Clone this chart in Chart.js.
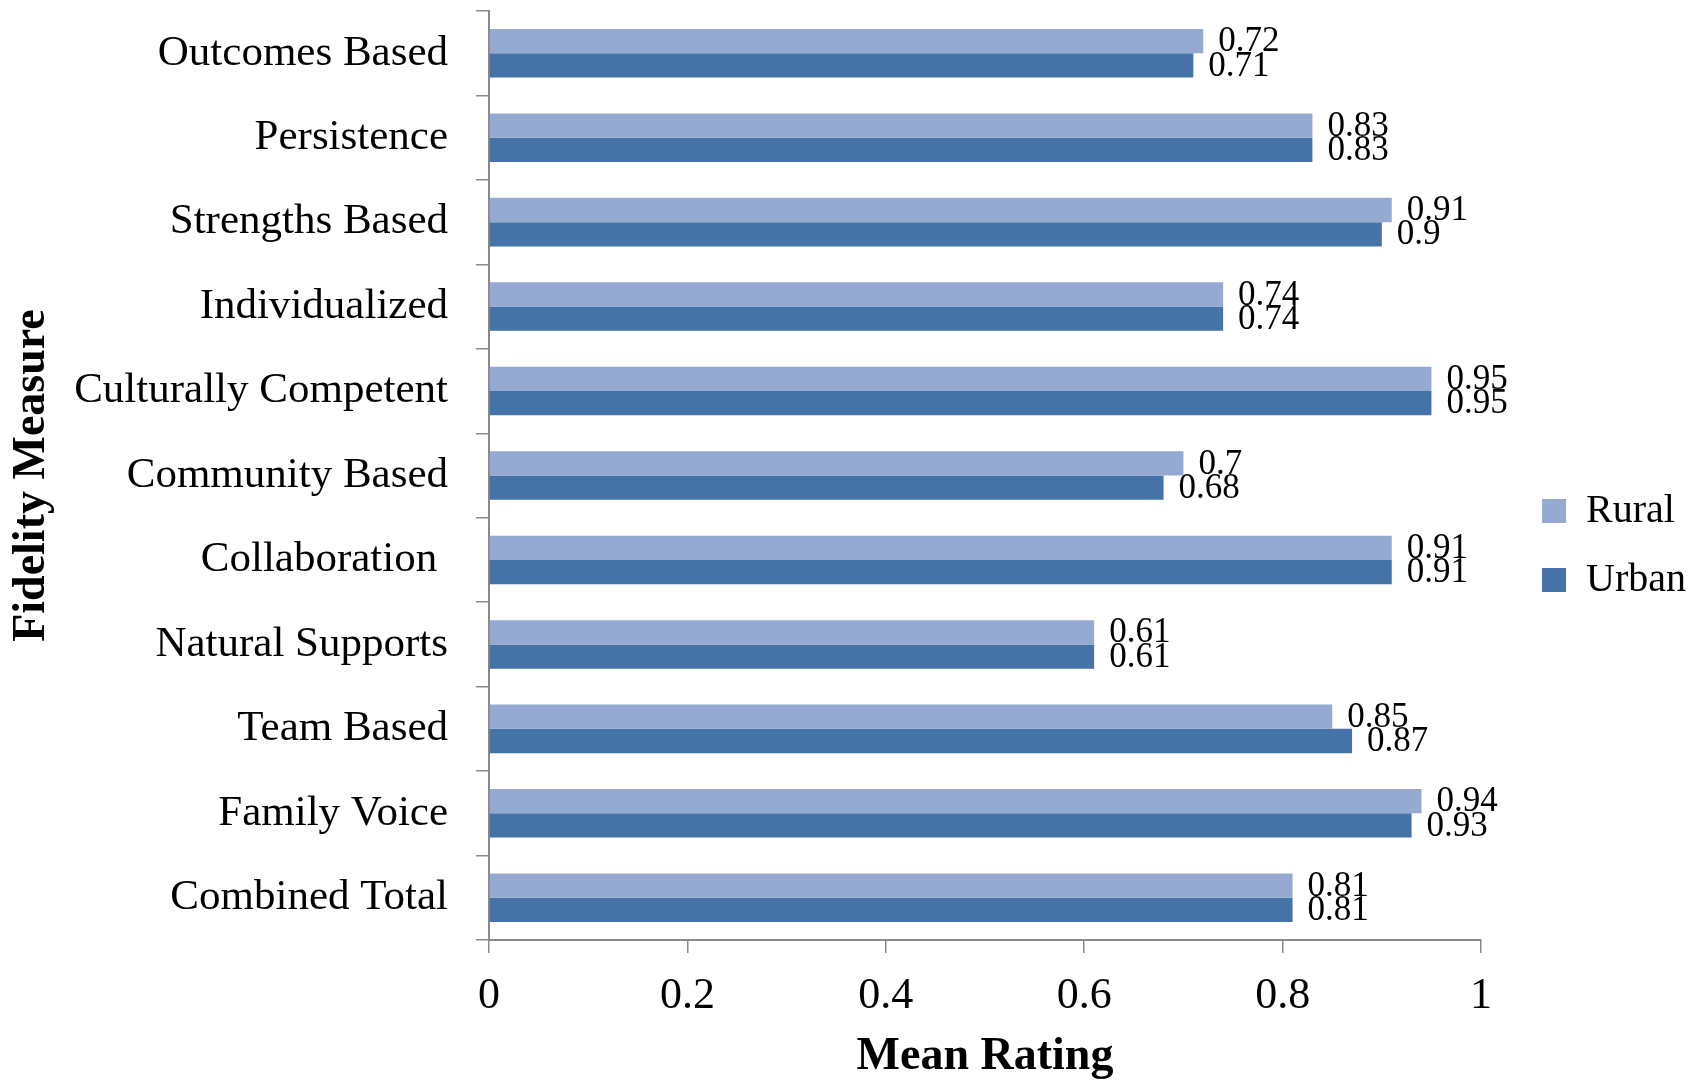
<!DOCTYPE html>
<html>
<head>
<meta charset="utf-8">
<script src="https://cdn.jsdelivr.net/npm/chart.js@4/dist/chart.umd.min.js"></script>
<style>
  html, body { margin: 0; padding: 0; background: #fff; }
  #wrap { width: 1704px; height: 1080px; }
</style>
</head>
<body>
<div id="wrap"><canvas id="c" width="1704" height="1080"></canvas></div>
<script>
// Fidelity measures (top to bottom)
const categories = [
  "Outcomes Based",
  "Persistence",
  "Strengths Based",
  "Individualized",
  "Culturally Competent",
  "Community Based",
  "Collaboration ",
  "Natural Supports",
  "Team Based",
  "Family Voice",
  "Combined Total"
];

// Mean rating per measure
const rural = [0.72, 0.83, 0.91, 0.74, 0.95, 0.7, 0.91, 0.61, 0.85, 0.94, 0.81];
const urban = [0.71, 0.83, 0.9, 0.74, 0.95, 0.68, 0.91, 0.61, 0.87, 0.93, 0.81];

const seriesNames = ["Rural", "Urban"];
const xTicks = [0, 0.2, 0.4, 0.6, 0.8, 1];

const FONT = "'Liberation Serif', 'Times New Roman', serif";
const AXIS_GRAY = "#898989";

// Writes each bar's value just past its end
const valueLabels = {
  id: "valueLabels",
  afterDatasetsDraw(chart) {
    const ctx = chart.ctx;
    ctx.save();
    ctx.font = "35px " + FONT;
    ctx.fillStyle = "#000";
    ctx.textAlign = "left";
    ctx.textBaseline = "middle";
    chart.data.datasets.forEach((ds, di) => {
      const meta = chart.getDatasetMeta(di);
      meta.data.forEach((bar, i) => {
        ctx.fillText(String(ds.data[i]), bar.x + 15, bar.y + 1);
      });
    });
    ctx.restore();
  }
};

new Chart(document.getElementById("c"), {
  type: "bar",
  data: {
    labels: categories,
    datasets: [
      { label: seriesNames[0], data: rural, backgroundColor: "#95a9d1", borderWidth: 0 },
      { label: seriesNames[1], data: urban, backgroundColor: "#4572a7", borderWidth: 0 }
    ]
  },
  options: {
    indexAxis: "y",
    responsive: false,
    animation: false,
    devicePixelRatio: 1,
    categoryPercentage: 0.575,
    barPercentage: 1.0,
    layout: { padding: { left: 3, top: 11, right: 8, bottom: 0 } },
    plugins: {
      legend: {
        position: "right",
        align: "center",
        labels: {
          font: { family: FONT, size: 40 },
          color: "#000",
          boxWidth: 24,
          boxHeight: 24,
          padding: 29
        }
      },
      tooltip: { enabled: false }
    },
    scales: {
      x: {
        type: "linear",
        min: 0,
        max: 1,
        afterBuildTicks(scale) {
          scale.ticks = xTicks.map(v => ({ value: v }));
        },
        ticks: {
          font: { family: FONT, size: 44 },
          color: "#000",
          padding: 17,
          callback: v => String(v)
        },
        grid: {
          drawOnChartArea: false,
          drawTicks: true,
          tickLength: 13,
          color: AXIS_GRAY,
          lineWidth: 1.5
        },
        border: { display: true, color: AXIS_GRAY, width: 2 },
        title: {
          display: true,
          text: "Mean Rating",
          font: { family: FONT, size: 46, weight: "bold" },
          color: "#000",
          padding: { top: 0, bottom: -5 }
        },
        afterFit(scale) { scale.height = 140; }
      },
      y: {
        type: "category",
        offset: true,
        grid: {
          offset: true,
          drawOnChartArea: false,
          drawTicks: true,
          tickLength: 13,
          color: AXIS_GRAY,
          lineWidth: 1.5
        },
        border: { display: true, color: AXIS_GRAY, width: 2 },
        ticks: {
          font: { family: FONT, size: 43 },
          color: "#000",
          padding: 28
        },
        title: {
          display: true,
          text: "Fidelity Measure",
          font: { family: FONT, size: 46, weight: "bold" },
          color: "#000",
          padding: { top: 2, bottom: 0 }
        },
        afterFit(scale) {
          scale.width = 486;
          // labels sit half a band inside the ends, so no extra room is needed
          scale.paddingTop = 0;
          scale.paddingBottom = 0;
        }
      },
      // empty right-hand axis that keeps a gap between the plot and the legend
      gap: {
        type: "category",
        position: "right",
        display: true,
        grid: { display: false },
        border: { display: false },
        ticks: { display: false },
        afterFit(scale) { scale.width = 32; }
      }
    }
  },
  plugins: [valueLabels]
});
</script>
</body>
</html>
